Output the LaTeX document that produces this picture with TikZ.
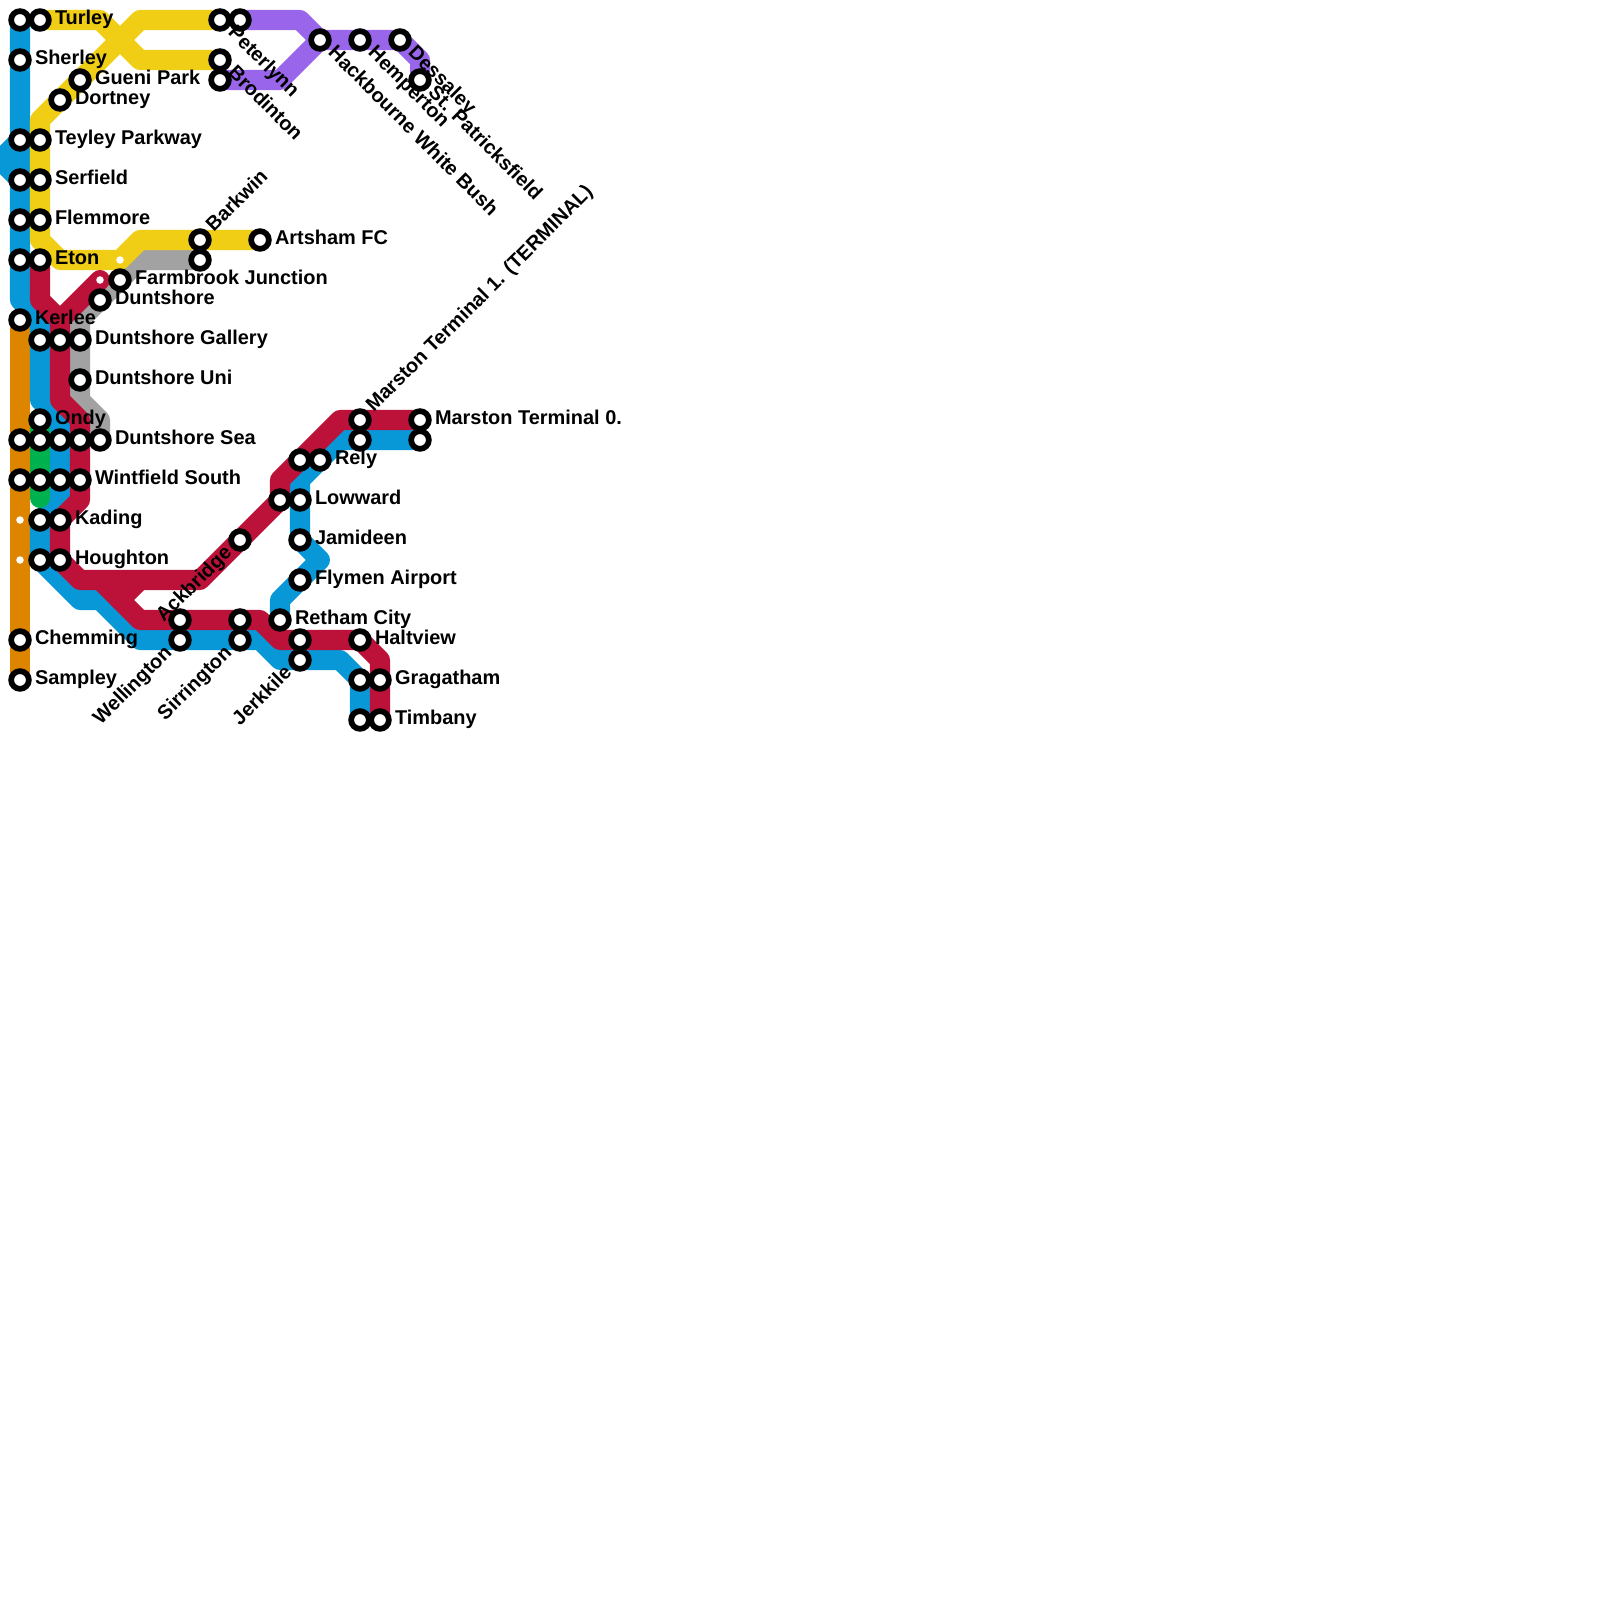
\documentclass[tikz,border=0pt]{standalone}
\usepackage{fontspec}
\setmainfont{Liberation Sans}
\definecolor{lblue}{RGB}{9,152,215}
\definecolor{lyellow}{RGB}{240,206,21}
\definecolor{lred}{RGB}{188,18,57}
\definecolor{lgray}{RGB}{162,162,162}
\definecolor{lorange}{RGB}{222,133,0}
\definecolor{lgreen}{RGB}{0,177,79}
\definecolor{lpurple}{RGB}{153,102,235}
\tikzset{
  mline/.style={line width=0.2cm,line join=round,line cap=round},
  ringst/.style={circle,draw=black,fill=white,line width=0.057cm,minimum size=0.177cm,inner sep=0pt,outer sep=0pt},
  passst/.style={circle,fill=white,minimum size=0.075cm,inner sep=0pt,outer sep=0pt},
  lab/.style={inner sep=0pt,outer sep=0pt,font=\fontsize{5.67}{6}\bfseries\selectfont},
  labr/.style={lab,anchor=base west,shift={(0.15cm,-0.047cm)}},
  labd/.style={lab,anchor=base west,rotate=-45,shift={(0.15cm,-0.047cm)}},
  labu/.style={lab,anchor=base west,rotate=45,shift={(0.15cm,-0.047cm)}},
  labdl/.style={lab,anchor=base east,rotate=45,shift={(-0.15cm,-0.047cm)}}
}
\begin{document}
\begin{tikzpicture}[x=0.01cm,y=-0.01cm]
\useasboundingbox (0,0) rectangle (1600,1600);
% lines
\draw[mline,lgray] (200,260) -- (140,260) -- (80,320) -- (80,400) -- (100,420) -- (100,440);
\draw[mline,lorange] (20,320) -- (20,680);
\draw[mline,lblue] (20,140) -- (20,180);
\draw[mline,lblue] (20,20) -- (20,140) -- (0,160) -- (20,180) -- (20,300) -- (40,320) -- (40,400) -- (60,420) -- (60,500) -- (40,520) -- (40,560) -- (80,600) -- (100,600) -- (140,640) -- (260,640) -- (280,660) -- (340,660) -- (360,680) -- (360,720);
\draw[mline,lblue] (420,440) -- (340,440) -- (300,480) -- (300,540) -- (320,560) -- (280,600) -- (280,620);
\draw[mline,lgreen] (40,420) -- (40,498);
\draw[mline,lpurple] (240,20) -- (300,20) -- (320,40) -- (400,40) -- (420,60) -- (420,80);
\draw[mline,lpurple] (220,80) -- (280,80) -- (320,40);
\draw[mline,lyellow] (40,20) -- (100,20) -- (140,60) -- (220,60);
\draw[mline,lyellow] (220,20) -- (140,20) -- (40,120) -- (40,240) -- (60,260) -- (120,260) -- (140,240) -- (260,240);
\draw[mline,lred] (40,260) -- (40,300) -- (60,320) -- (100,280);
\draw[mline,lred] (60,320) -- (60,400) -- (80,420) -- (80,500) -- (60,520) -- (60,560) -- (80,580) -- (200,580) -- (280,500) -- (280,480) -- (340,420) -- (420,420);
\draw[mline,lred] (100,580) -- (140,620) -- (260,620) -- (280,640) -- (360,640) -- (380,660) -- (380,720);
\draw[mline,lred] (120,600) -- (140,580);
% pass-through stops
\foreach \n/\x/\y in {p1/20/520,p2/20/560,p3/120/260,p4/100/280}
  \node[passst] (\n) at (\x,\y) {};
% stations
\foreach \n/\x/\y in {turleya/20/20,turley/40/20,sherley/20/60,gueni/80/80,dortney/60/100,
  teyleya/20/140,teyley/40/140,serfielda/20/180,serfield/40/180,flemmorea/20/220,flemmore/40/220,
  etona/20/260,eton/40/260,farmbrook/120/280,duntshore/100/300,kerlee/20/320,
  galla/40/340,gallb/60/340,gallery/80/340,uni/80/380,ondy/40/420,
  seaa/20/440,seab/40/440,seac/60/440,sead/80/440,sea/100/440,
  winta/20/480,wintb/40/480,wintc/60/480,wint/80/480,
  kadinga/40/520,kading/60/520,houghtona/40/560,houghton/60/560,
  chemming/20/640,sampley/20/680,
  peterlynn/220/20,peterlynnb/240/20,brodinton/220/60,brodintonb/220/80,
  hackbourne/320/40,hemperton/360/40,dessaley/400/40,patricks/420/80,
  barkwin/200/240,barkwinb/200/260,artsham/260/240,
  marstona/360/420,marstonb/360/440,marstonc/420/420,marstond/420/440,
  relya/300/460,rely/320/460,lowwarda/280/500,lowward/300/500,ackbridge/240/540,
  jamideen/300/540,flymen/300/580,retham/280/620,
  wella/180/620,wellington/180/640,sirra/240/620,sirrington/240/640,
  jerka/300/640,jerkkile/300/660,haltview/360/640,
  graga/360/680,gragatham/380/680,timba/360/720,timbany/380/720}
  \node[ringst] (\n) at (\x,\y) {};
% labels
\foreach \n/\t in {turley/Turley,sherley/Sherley,gueni/Gueni Park,dortney/Dortney,teyley/Teyley Parkway,
  serfield/Serfield,flemmore/Flemmore,eton/Eton,farmbrook/Farmbrook Junction,duntshore/Duntshore,
  kerlee/Kerlee,gallery/Duntshore Gallery,uni/Duntshore Uni,ondy/Ondy,sea/Duntshore Sea,
  wint/Wintfield South,kading/Kading,houghton/Houghton,chemming/Chemming,sampley/Sampley,
  artsham/Artsham FC,marstonc/Marston Terminal 0.,rely/Rely,lowward/Lowward,jamideen/Jamideen,
  flymen/Flymen Airport,retham/Retham City,haltview/Haltview,gragatham/Gragatham,timbany/Timbany}
  \node[labr] (l\n) at (\n.center) {\t};
\foreach \n/\t in {peterlynn/Peterlynn,brodinton/Brodinton,hackbourne/Hackbourne White Bush,
  hemperton/Hemperton,dessaley/Dessaley,patricks/St. Patricksfield}
  \node[labd] (l\n) at (\n.center) {\t};
\node[labu] (lbarkwin) at (barkwin.center) {Barkwin};
\node[labu] (lmarston) at (marstona.center) {Marston Terminal 1. (TERMINAL)};
\foreach \n/\t in {ackbridge/Ackbridge,wellington/Wellington,sirrington/Sirrington,jerkkile/Jerkkile}
  \node[labdl] (l\n) at (\n.center) {\t};
\end{tikzpicture}
\end{document}
